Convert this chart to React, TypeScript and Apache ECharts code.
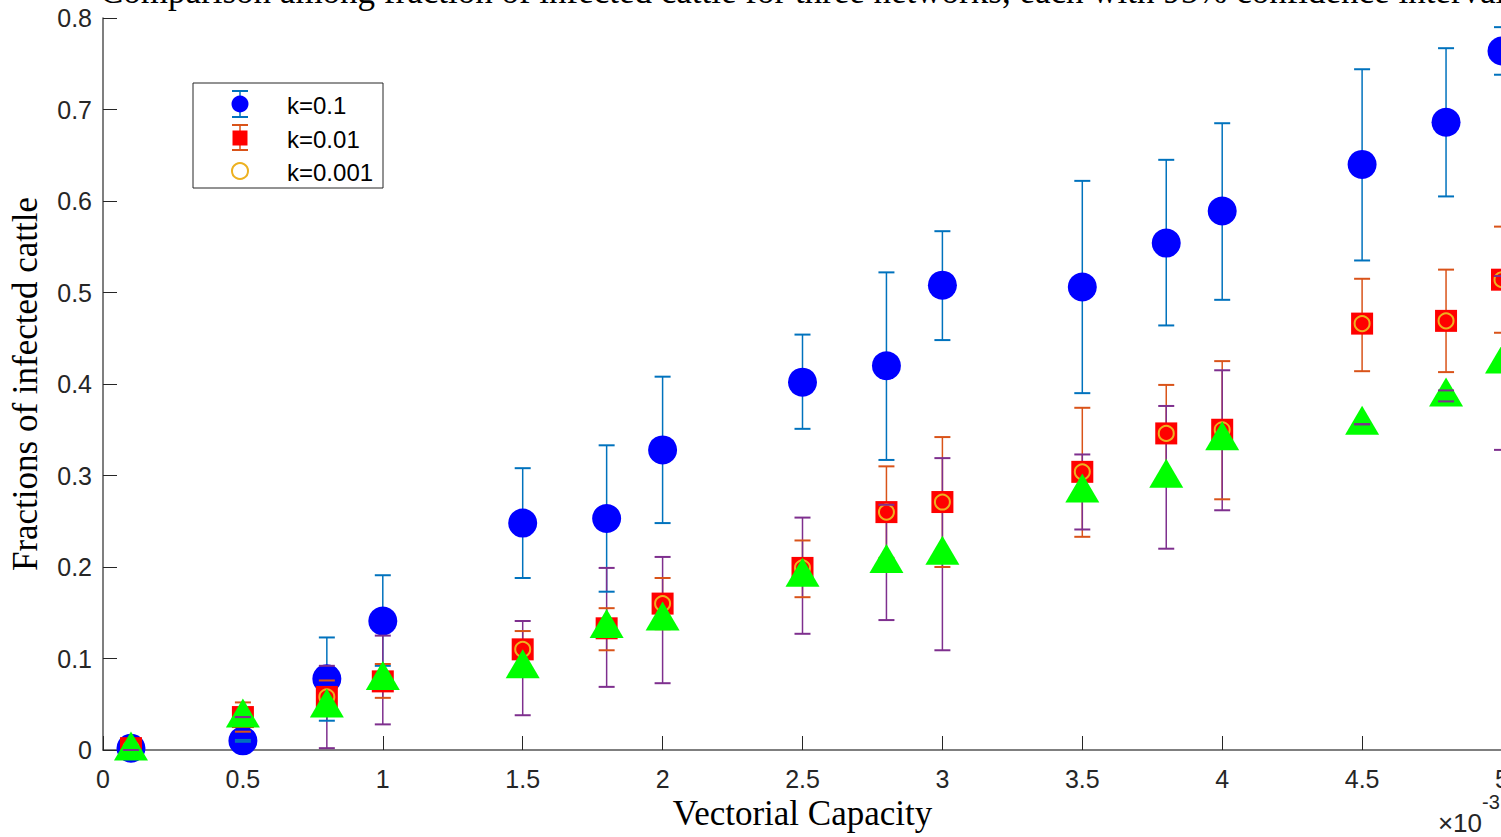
import React, { useEffect, useRef } from 'react';
import * as echarts from 'echarts';

// Vectorial capacity (×10^-3)
const xValues = [0.1, 0.5, 0.8, 1, 1.5, 1.8, 2, 2.5, 2.8, 3, 3.5, 3.8, 4, 4.5, 4.8, 5];

// k = 0.1 (blue circles, blue error bars)
const k1Mean = [0.002, 0.01, 0.078, 0.141, 0.248, 0.253, 0.328, 0.402, 0.42, 0.508, 0.506, 0.554, 0.589, 0.64, 0.686, 0.764];
const k1Low = [0.001, 0.009, 0.032, 0.092, 0.188, 0.173, 0.248, 0.351, 0.317, 0.448, 0.39, 0.464, 0.492, 0.535, 0.605, 0.738];
const k1High = [0.003, 0.011, 0.123, 0.191, 0.308, 0.333, 0.408, 0.454, 0.522, 0.567, 0.622, 0.645, 0.685, 0.744, 0.767, 0.79];

// k = 0.01 (red squares, orange error bars)
const k2Mean = [0.002, 0.036, 0.058, 0.075, 0.11, 0.133, 0.16, 0.199, 0.26, 0.271, 0.304, 0.346, 0.35, 0.466, 0.469, 0.514];
const k2Low = [0.002, 0.02, 0.04, 0.057, 0.09, 0.109, 0.132, 0.167, 0.21, 0.2, 0.233, 0.293, 0.274, 0.414, 0.413, 0.456];
const k2High = [0.002, 0.052, 0.076, 0.094, 0.13, 0.155, 0.188, 0.229, 0.31, 0.342, 0.374, 0.399, 0.425, 0.515, 0.525, 0.572];

// k = 0.001 (hollow yellow circles)
const k3Mean = [0.002, 0.036, 0.058, 0.075, 0.11, 0.133, 0.16, 0.199, 0.26, 0.271, 0.304, 0.346, 0.35, 0.466, 0.469, 0.514];

// green triangles with purple error bars
const k4Mean = [0.0, 0.036, 0.047, 0.077, 0.09, 0.134, 0.142, 0.19, 0.205, 0.214, 0.282, 0.298, 0.339, 0.356, 0.387, 0.423];
const k4Low = [0.0, 0.036, 0.002, 0.028, 0.038, 0.069, 0.073, 0.127, 0.142, 0.109, 0.241, 0.22, 0.262, 0.356, 0.381, 0.328];
const k4High = [0.0, 0.036, 0.092, 0.125, 0.141, 0.199, 0.211, 0.254, 0.268, 0.319, 0.323, 0.376, 0.415, 0.356, 0.393, 0.518];

const legendLabels = ['k=0.1', 'k=0.01', 'k=0.001'];

const BLUE_BAR = '#0072BD';
const ORANGE_BAR = '#D95319';
const YELLOW = '#EDB120';
const PURPLE_BAR = '#7E2F8E';

const sansFont = '"Liberation Sans", Arial, Helvetica, sans-serif';
const serifFont = '"Liberation Serif", "Times New Roman", serif';

const errData = (lo: number[], hi: number[]) => xValues.map((x, i) => [x, lo[i], hi[i]]);
const ptData = (m: number[]) => xValues.map((x, i) => [x, m[i]]);

const stemRender = (color: string) => (_params: any, api: any) => {
  const x = api.value(0);
  const top = api.coord([x, api.value(2)]);
  const bot = api.coord([x, api.value(1)]);
  return {
    type: 'line',
    shape: { x1: top[0], y1: top[1], x2: bot[0], y2: bot[1] },
    style: { stroke: color, lineWidth: 1.5 },
  };
};

const capRender = (color: string) => (_params: any, api: any) => {
  const x = api.value(0);
  const top = api.coord([x, api.value(2)]);
  const bot = api.coord([x, api.value(1)]);
  const hw = 8;
  return {
    type: 'group',
    children: [
      { type: 'line', shape: { x1: top[0] - hw, y1: top[1], x2: top[0] + hw, y2: top[1] }, style: { stroke: color, lineWidth: 2 } },
      { type: 'line', shape: { x1: bot[0] - hw, y1: bot[1], x2: bot[0] + hw, y2: bot[1] }, style: { stroke: color, lineWidth: 2 } },
    ],
  };
};

const stemSeries = (lo: number[], hi: number[], color: string, z: number) => ({
  type: 'custom',
  silent: true,
  z,
  clip: false,
  encode: { x: 0, y: [1, 2] },
  data: errData(lo, hi),
  renderItem: stemRender(color),
});

const capSeries = (lo: number[], hi: number[], color: string, z: number) => ({
  type: 'custom',
  silent: true,
  z,
  clip: false,
  encode: { x: 0, y: [1, 2] },
  data: errData(lo, hi),
  renderItem: capRender(color),
});

export default function App() {
  const ref = useRef<HTMLDivElement>(null);

  useEffect(() => {
    if (!ref.current) return;
    const chart = echarts.init(ref.current, null, { renderer: 'svg' });

    const legendX = 240;
    const rows = [104, 138, 171];

    const option: any = {
      animation: false,
      backgroundColor: '#ffffff',
      grid: { left: 102, top: 18, width: 1400, height: 732, containLabel: false },
      xAxis: {
        type: 'value',
        min: 0,
        max: 5,
        interval: 0.5,
        name: 'Vectorial Capacity',
        nameLocation: 'middle',
        nameGap: 39,
        nameTextStyle: { fontFamily: serifFont, fontSize: 35, color: '#000' },
        axisLine: { show: true, lineStyle: { color: '#555', width: 1.5 } },
        axisTick: { show: true, inside: true, length: 14, lineStyle: { color: '#262626', width: 1 } },
        axisLabel: { fontFamily: sansFont, fontSize: 25, color: '#262626', margin: 16 },
        splitLine: { show: false },
      },
      yAxis: {
        type: 'value',
        min: 0,
        max: 0.8,
        interval: 0.1,
        name: 'Fractions of infected cattle',
        nameLocation: 'middle',
        nameGap: 60,
        nameRotate: 90,
        nameTextStyle: { fontFamily: serifFont, fontSize: 35, color: '#000' },
        axisLine: { show: true, lineStyle: { color: '#555', width: 1.5 } },
        axisTick: { show: true, inside: true, length: 14, lineStyle: { color: '#262626', width: 1 } },
        axisLabel: { fontFamily: sansFont, fontSize: 25, color: '#262626', margin: 11 },
        splitLine: { show: false },
      },
      series: [
        stemSeries(k1Low, k1High, BLUE_BAR, 1),
        stemSeries(k2Low, k2High, ORANGE_BAR, 1),
        stemSeries(k4Low, k4High, PURPLE_BAR, 1),
        {
          type: 'scatter', silent: true, z: 2, name: legendLabels[0],
          symbol: 'circle', symbolSize: 29,
          itemStyle: { color: '#0000FF', opacity: 1 },
          data: ptData(k1Mean),
        },
        capSeries(k1Low, k1High, BLUE_BAR, 3),
        {
          type: 'scatter', silent: true, z: 4, name: legendLabels[1],
          symbol: 'rect', symbolSize: 22,
          itemStyle: { color: '#FF0000', opacity: 1 },
          data: ptData(k2Mean),
        },
        capSeries(k2Low, k2High, ORANGE_BAR, 5),
        {
          type: 'scatter', silent: true, z: 6, name: legendLabels[2],
          symbol: 'circle', symbolSize: 15,
          itemStyle: { color: 'rgba(0,0,0,0)', borderColor: YELLOW, borderWidth: 2, opacity: 1 },
          data: ptData(k3Mean),
        },
        {
          type: 'scatter', silent: true, z: 7,
          symbol: 'triangle', symbolSize: [34, 29], symbolOffset: [0, -4],
          itemStyle: { color: '#00FF00', opacity: 1 },
          data: ptData(k4Mean),
        },
        capSeries(k4Low, k4High, PURPLE_BAR, 8),
      ],
      graphic: [
        {
          type: 'text', x: 100, y: 9, z: 30,
          style: {
            text: 'Comparison among fraction of infected cattle for three networks, each with 95% confidence intervals',
            font: `35px ${serifFont}`, fill: '#000', textAlign: 'left', textVerticalAlign: 'bottom',
          },
        },
        {
          type: 'text', x: 1482, y: 836, z: 30,
          style: { text: '×10', font: `26px ${sansFont}`, fill: '#262626', textAlign: 'right', textVerticalAlign: 'bottom' },
        },
        {
          type: 'text', x: 1482, y: 792, z: 30,
          style: { text: '-3', font: `20px ${sansFont}`, fill: '#262626', textAlign: 'left', textVerticalAlign: 'top' },
        },
        {
          type: 'rect', z: 30,
          shape: { x: 193, y: 83, width: 190, height: 105 },
          style: { fill: '#fff', stroke: '#262626', lineWidth: 1 },
        },
        // legend entry 1
        { type: 'line', z: 31, shape: { x1: legendX, y1: rows[0] - 13, x2: legendX, y2: rows[0] + 13 }, style: { stroke: BLUE_BAR, lineWidth: 1.5 } },
        { type: 'line', z: 31, shape: { x1: legendX - 8, y1: rows[0] - 13, x2: legendX + 8, y2: rows[0] - 13 }, style: { stroke: BLUE_BAR, lineWidth: 2 } },
        { type: 'line', z: 31, shape: { x1: legendX - 8, y1: rows[0] + 13, x2: legendX + 8, y2: rows[0] + 13 }, style: { stroke: BLUE_BAR, lineWidth: 2 } },
        { type: 'circle', z: 32, shape: { cx: legendX, cy: rows[0], r: 8.5 }, style: { fill: '#0000FF' } },
        // legend entry 2
        { type: 'line', z: 31, shape: { x1: legendX, y1: rows[1] - 13, x2: legendX, y2: rows[1] + 12 }, style: { stroke: ORANGE_BAR, lineWidth: 1.5 } },
        { type: 'line', z: 31, shape: { x1: legendX - 8, y1: rows[1] - 13, x2: legendX + 8, y2: rows[1] - 13 }, style: { stroke: ORANGE_BAR, lineWidth: 2 } },
        { type: 'line', z: 31, shape: { x1: legendX - 8, y1: rows[1] + 12, x2: legendX + 8, y2: rows[1] + 12 }, style: { stroke: ORANGE_BAR, lineWidth: 2 } },
        { type: 'rect', z: 32, shape: { x: legendX - 7.5, y: rows[1] - 7.5, width: 15, height: 15 }, style: { fill: '#FF0000' } },
        // legend entry 3
        { type: 'circle', z: 32, shape: { cx: legendX, cy: rows[2], r: 8 }, style: { fill: 'none', stroke: YELLOW, lineWidth: 2 } },
        ...legendLabels.map((t, i) => ({
          type: 'text', z: 32, x: 287, y: rows[i] + 1,
          style: { text: t, font: `24px ${sansFont}`, fill: '#000', textAlign: 'left', textVerticalAlign: 'middle' },
        })),
      ],
    };

    chart.setOption(option);
    return () => chart.dispose();
  }, []);

  return (
    <div style={{ position: 'fixed', left: 0, top: 0, width: 1501, height: 837, overflow: 'hidden', background: '#fff' }}>
      <div ref={ref} style={{ width: 1540, height: 837 }} />
    </div>
  );
}
